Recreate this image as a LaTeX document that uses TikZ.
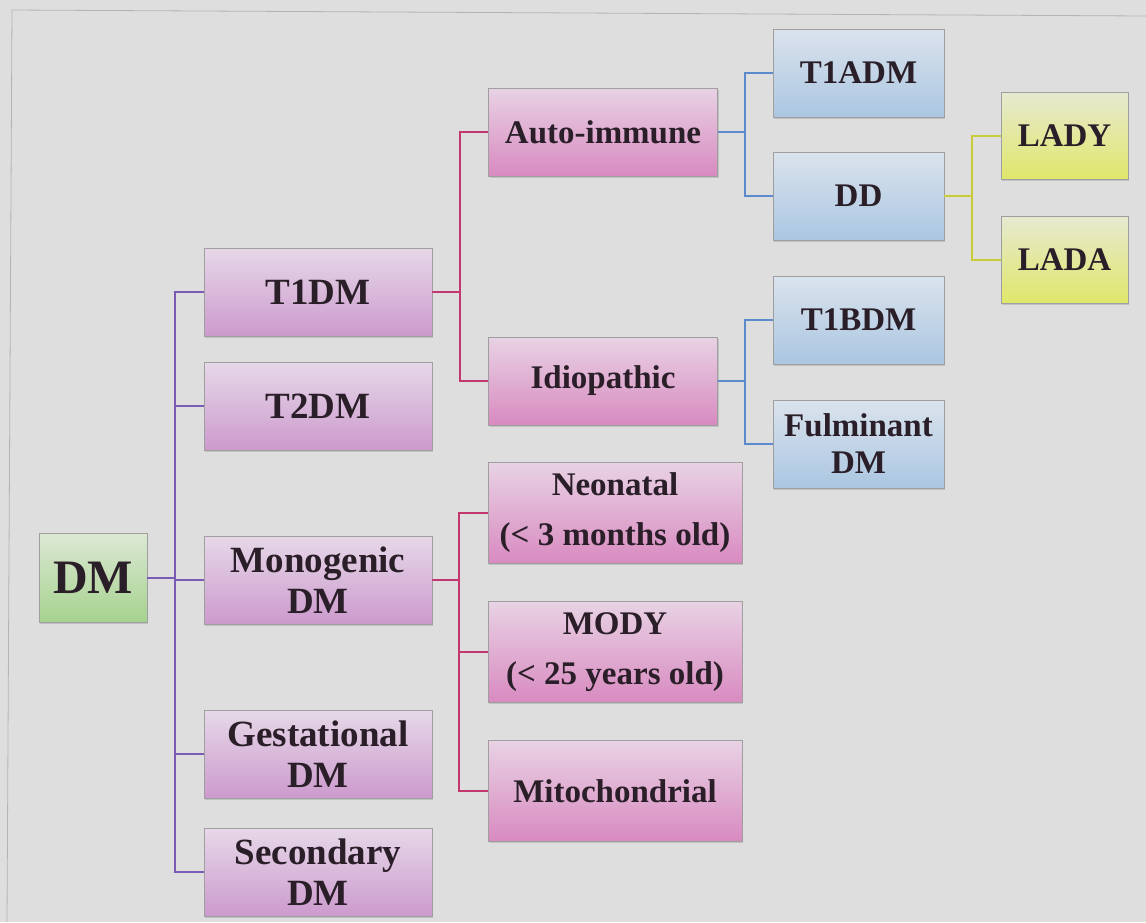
\documentclass[tikz,border=0pt]{standalone}
\usepackage{fontspec}
\setmainfont{Liberation Serif}
\usepackage{xcolor}
\usetikzlibrary{positioning,shadows}
\definecolor{bgcol}{HTML}{DEDEDE}
\definecolor{framecol}{HTML}{B4B4B4}
\definecolor{txtcol}{HTML}{2A1F28}
\definecolor{greentop}{HTML}{DCE8D4}
\definecolor{greenbot}{HTML}{A6D28E}
\definecolor{lilactop}{HTML}{E6D8E8}
\definecolor{lilacbot}{HTML}{CC9ACD}
\definecolor{pinktop}{HTML}{E8D2E4}
\definecolor{pinkbot}{HTML}{D88AC0}
\definecolor{bluetop}{HTML}{DAE3EC}
\definecolor{bluebot}{HTML}{ABC6E2}
\definecolor{yeltop}{HTML}{E6E9D0}
\definecolor{yelbot}{HTML}{E0E76A}
\definecolor{dmcol}{HTML}{7A5BB4}
\definecolor{pinkcol}{HTML}{C4376E}
\definecolor{bluecol}{HTML}{5C8ACC}
\definecolor{yelcol}{HTML}{C9CC38}

\begin{document}
\begin{tikzpicture}[on grid,
   box/.style={draw=gray!75,line width=0.6pt,inner sep=0pt,align=center,text=txtcol,
     font=\bfseries\fontsize{33}{37}\selectfont,
     drop shadow={shadow xshift=1.2pt,shadow yshift=-1.5pt,opacity=0.3}},
   dmbox/.style={box,minimum width=108pt,minimum height=89pt,top color=greentop,bottom color=greenbot,
     font=\bfseries\fontsize{48}{52}\selectfont},
   typebox/.style={box,minimum width=228pt,minimum height=88pt,top color=lilactop,bottom color=lilacbot,
     font=\bfseries\fontsize{37}{41}\selectfont},
   subbox/.style={box,minimum width=229pt,minimum height=88pt,top color=pinktop,bottom color=pinkbot},
   monobox/.style={subbox,minimum width=254pt,minimum height=101pt,font=\bfseries\fontsize{33}{50}\selectfont},
   formbox/.style={box,minimum width=171pt,minimum height=88pt,top color=bluetop,bottom color=bluebot},
   latebox/.style={box,minimum width=127pt,minimum height=87pt,top color=yeltop,bottom color=yelbot},
   dmline/.style={draw=dmcol,line width=2pt},
   pinkline/.style={draw=pinkcol,line width=2pt},
   blueline/.style={draw=bluecol,line width=2pt},
   yelline/.style={draw=yelcol,line width=2pt}]
   \fill[bgcol] (0,0) rectangle (1146pt,-922pt);
   \useasboundingbox (0,0) rectangle (1146pt,-922pt);
   \draw[framecol,line width=0.8pt] (1146pt,-16pt) -- (12pt,-10pt) -- (7pt,-922pt);

   \node[dmbox] (dm) at (93pt,-578pt) {DM};
   \node[typebox] (t1dm) [above right=286pt and 225pt of dm] {T1DM};
   \node[typebox] (t2dm) [below=114pt of t1dm] {T2DM};
   \node[typebox] (mono) [below=174pt of t2dm] {Monogenic\\DM};
   \node[typebox] (gest) [below=174pt of mono] {Gestational\\DM};
   \node[typebox] (sec) [below=118pt of gest] {Secondary\\DM};

   \node[subbox] (auto) [above right=160pt and 285pt of t1dm] {Auto-immune};
   \node[subbox] (idio) [below=249pt of auto] {Idiopathic};
   \node[monobox] (neo) [above right=67pt and 297pt of mono] {Neonatal\\(< 3 months old)};
   \node[monobox] (mody) [below=139pt of neo] {MODY\\(< 25 years old)};
   \node[monobox] (mito) [below=139pt of mody] {Mitochondrial};

   \node[formbox] (t1adm) [above right=59pt and 255.5pt of auto] {T1ADM};
   \node[formbox] (dd) [below=123pt of t1adm] {DD};
   \node[formbox] (t1bdm) [above right=61pt and 255.5pt of idio] {T1BDM};
   \node[formbox] (ful) [below=124pt of t1bdm] {Fulminant\\DM};

   \node[latebox] (lady) [above right=60pt and 206pt of dd] {LADY};
   \node[latebox] (lada) [below=124pt of lady] {LADA};

   \draw[dmline] (dm.east) -- ++(28pt,0) |- (t1dm.west);
   \draw[dmline] (dm.east) -- ++(28pt,0) |- (t2dm.west);
   \draw[dmline] (dm.east) -- ++(28pt,0) |- (mono.west);
   \draw[dmline] (dm.east) -- ++(28pt,0) |- (gest.west);
   \draw[dmline] (dm.east) -- ++(28pt,0) |- (sec.west);

   \draw[pinkline] (t1dm.east) -- ++(28pt,0) |- (auto.west);
   \draw[pinkline] (t1dm.east) -- ++(28pt,0) |- (idio.west);
   \draw[pinkline] (mono.east) -- ++(27pt,0) |- (neo.west);
   \draw[pinkline] (mono.east) -- ++(27pt,0) |- (mody.west);
   \draw[pinkline] (mono.east) -- ++(27pt,0) |- (mito.west);

   \draw[blueline] (auto.east) -- ++(27pt,0) |- (t1adm.west);
   \draw[blueline] (auto.east) -- ++(27pt,0) |- (dd.west);
   \draw[blueline] (idio.east) -- ++(27pt,0) |- (t1bdm.west);
   \draw[blueline] (idio.east) -- ++(27pt,0) |- (ful.west);

   \draw[yelline] (dd.east) -- ++(28pt,0) |- (lady.west);
   \draw[yelline] (dd.east) -- ++(28pt,0) |- (lada.west);
\end{tikzpicture}
\end{document}
